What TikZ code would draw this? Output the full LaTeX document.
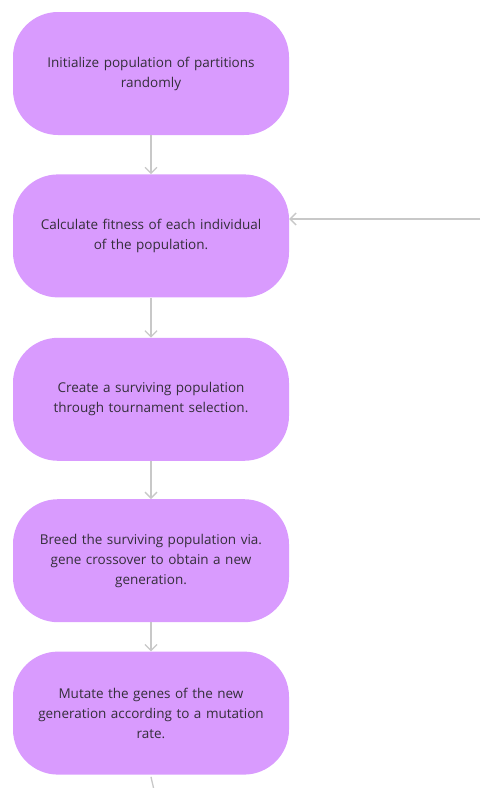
\documentclass[tikz,border=0pt]{standalone}
\usepackage{fontspec}
\setmainfont{Open Sans}
\definecolor{lilac}{RGB}{217,155,254}
\definecolor{inkgray}{RGB}{52,46,58}
\definecolor{linegray}{RGB}{200,200,200}
\usetikzlibrary{positioning, arrows.meta}

\begin{document}
\begin{tikzpicture}[
        x=1pt, y=-1pt,
        stepbox/.style={rectangle, rounded corners=45pt, fill=lilac, draw=none, minimum width=276pt, minimum height=123pt, text width=240pt, align=center, text=inkgray, font=\fontsize{13.5}{20}\selectfont},
        arrow/.style={-{Straight Barb[length=6pt, width=12pt]}, draw=linegray, line width=1.3pt}
    ]
        \useasboundingbox (0,0) rectangle (480,788);

        % Steps
        \node[stepbox] (INIT) at (151,73.5) {Initialize population of partitions\\randomly};
        \node[stepbox, below=39pt of INIT] (FIT) {Calculate fitness of each individual\\of the population.};
        \node[stepbox, below=40pt of FIT] (SEL) {Create a surviving population\\through tournament selection.};
        \node[stepbox, below=38pt of SEL] (BREED) {Breed the surviving population via.\\gene crossover to obtain a new\\generation.};
        \node[stepbox, below=29pt of BREED] (MUT) {Mutate the genes of the new\\generation according to a mutation\\rate.};

        % Loop ends
        \coordinate (loopin) at (480,219);
        \coordinate (loopout) at (153.5,788);

        % Arrows
        \draw[arrow] (INIT) -- (FIT);
        \draw[arrow] (FIT) -- (SEL);
        \draw[arrow] (SEL) -- (BREED);
        \draw[arrow] (BREED) -- (MUT);
        \draw[arrow] (loopin) -- (FIT.east |- loopin);
        \draw[draw=linegray, line width=1.3pt] ([yshift=-2pt]MUT.south) to[out=-80, in=100] (loopout);
    \end{tikzpicture}
\end{document}
